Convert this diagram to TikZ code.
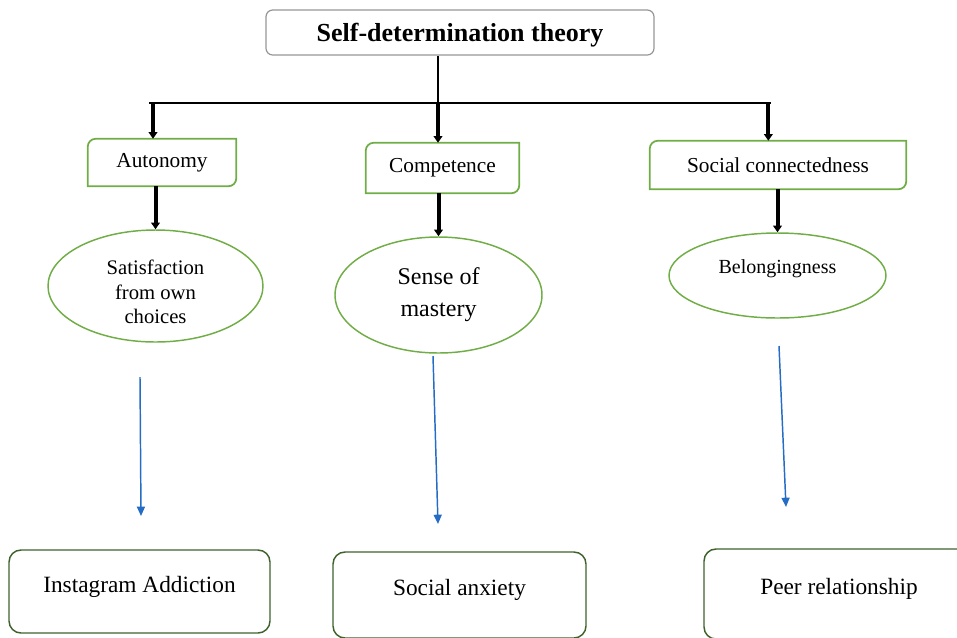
\documentclass[tikz,border=0pt]{standalone}
\usepackage{fontspec}
\setmainfont{Liberation Serif}
\definecolor{sdgreen}{RGB}{112,173,71}
\definecolor{sddark}{RGB}{62,98,44}
\definecolor{sdblue}{RGB}{36,108,196}
\definecolor{sdgray}{RGB}{150,150,150}
\usetikzlibrary{arrows.meta,shapes.geometric,calc}

\begin{document}
\begin{tikzpicture}[x=0.75pt,y=-0.75pt,
  theory/.style={draw=sdgray,line width=0.9pt,rounded corners=5pt,minimum width=291pt,
    minimum height=33.75pt,text height=17.5pt,font=\fontsize{19.5}{22}\selectfont\bfseries},
  need/.style={inner sep=0pt,font=\fontsize{16}{19}\selectfont},
  needline/.style={draw=sdgreen,line width=1.3pt},
  feel/.style={ellipse,draw=sdgreen,line width=1.1pt,inner sep=0pt,align=center},
  outcome/.style={draw=sddark,line width=1.1pt,rounded corners=9pt,inner sep=0pt,
    text height=12pt,text depth=11pt,font=\fontsize{17.5}{20}\selectfont},
  trunk/.style={line width=1.6pt},
  down/.style={-{Triangle[length=5pt,width=6.5pt]},line width=3pt},
  flow/.style={-{Triangle[length=7pt,width=6pt]},line width=1.1pt,sdblue}
]
  \useasboundingbox (0,0) rectangle (957,637);

  % Theory
  \node[theory] (sdt) at (460,32.5) {Self-determination theory};

  % Needs
  \node[need,minimum width=111pt,minimum height=35.25pt] (auto) at (162,162.5) {Autonomy};
  \node[need,minimum width=114.75pt,minimum height=37.5pt] (comp) at (442.5,168) {Competence};
  \node[need,minimum width=192pt,minimum height=36pt] (soc) at (778,165) {Social connectedness};
  \foreach \n in {auto,comp,soc}
    \draw[needline] (\n.north east) -- ([xshift=6pt]\n.north west)
      arc[start angle=90,end angle=180,radius=6pt] -- (\n.south west)
      -- ([xshift=-6pt]\n.south east) arc[start angle=270,end angle=360,radius=6pt] -- cycle;

  % Branches
  \coordinate (hub) at (438,103);
  \coordinate (jl) at (149,103);
  \coordinate (jr) at (771,103);
  \draw[trunk] (sdt.south -| hub) -- (hub);
  \draw[trunk] (jl) -- (jr);
  \draw[down] ([xshift=3pt]jl) -- ([xshift=3pt]jl |- auto.north);
  \draw[down] (hub) -- (hub |- comp.north);
  \draw[down] ([xshift=-2pt]jr) -- ([xshift=-2pt]jr |- soc.north);

  % Feelings
  \node[feel,minimum width=161.25pt,minimum height=84pt,font=\fontsize{15.5}{18.5}\selectfont]
    (sat) at (155.5,286) {\rule{0pt}{20pt}Satisfaction\\from own\\choices};
  \node[feel,minimum width=155.25pt,minimum height=87pt,font=\fontsize{18}{24}\selectfont]
    (mast) at (438.5,295) {Sense of\\mastery};
  \node[feel,minimum width=162.75pt,minimum height=63.75pt,font=\fontsize{15}{18}\selectfont,
    text height=10.5pt,text depth=13.5pt] (belong) at (777.5,275.5) {Belongingness};

  \draw[down] (sat.north |- auto.south) -- (sat.north);
  \draw[down] (mast.north |- comp.south) -- (mast.north);
  \draw[down] (belong.north |- soc.south) -- (belong.north);

  % Outcomes
  \node[outcome,minimum width=195.75pt,minimum height=62.25pt] (insta) at (139.5,591.5) {Instagram Addiction};
  \node[outcome,minimum width=189.75pt,minimum height=64.5pt] (anx) at (459.5,595) {Social anxiety};
  \node[outcome,minimum width=202.5pt,minimum height=67.5pt] (peer) at (839,594) {Peer relationship};

  \coordinate (f1) at (140,377);
  \coordinate (t1) at (141,516);
  \coordinate (f2) at (433,356);
  \coordinate (t2) at (438,524);
  \coordinate (f3) at (779,346);
  \coordinate (t3) at (786,507);
  \draw[flow] (f1) -- (t1);
  \draw[flow] (f2) -- (t2);
  \draw[flow] (f3) -- (t3);
\end{tikzpicture}
\end{document}
